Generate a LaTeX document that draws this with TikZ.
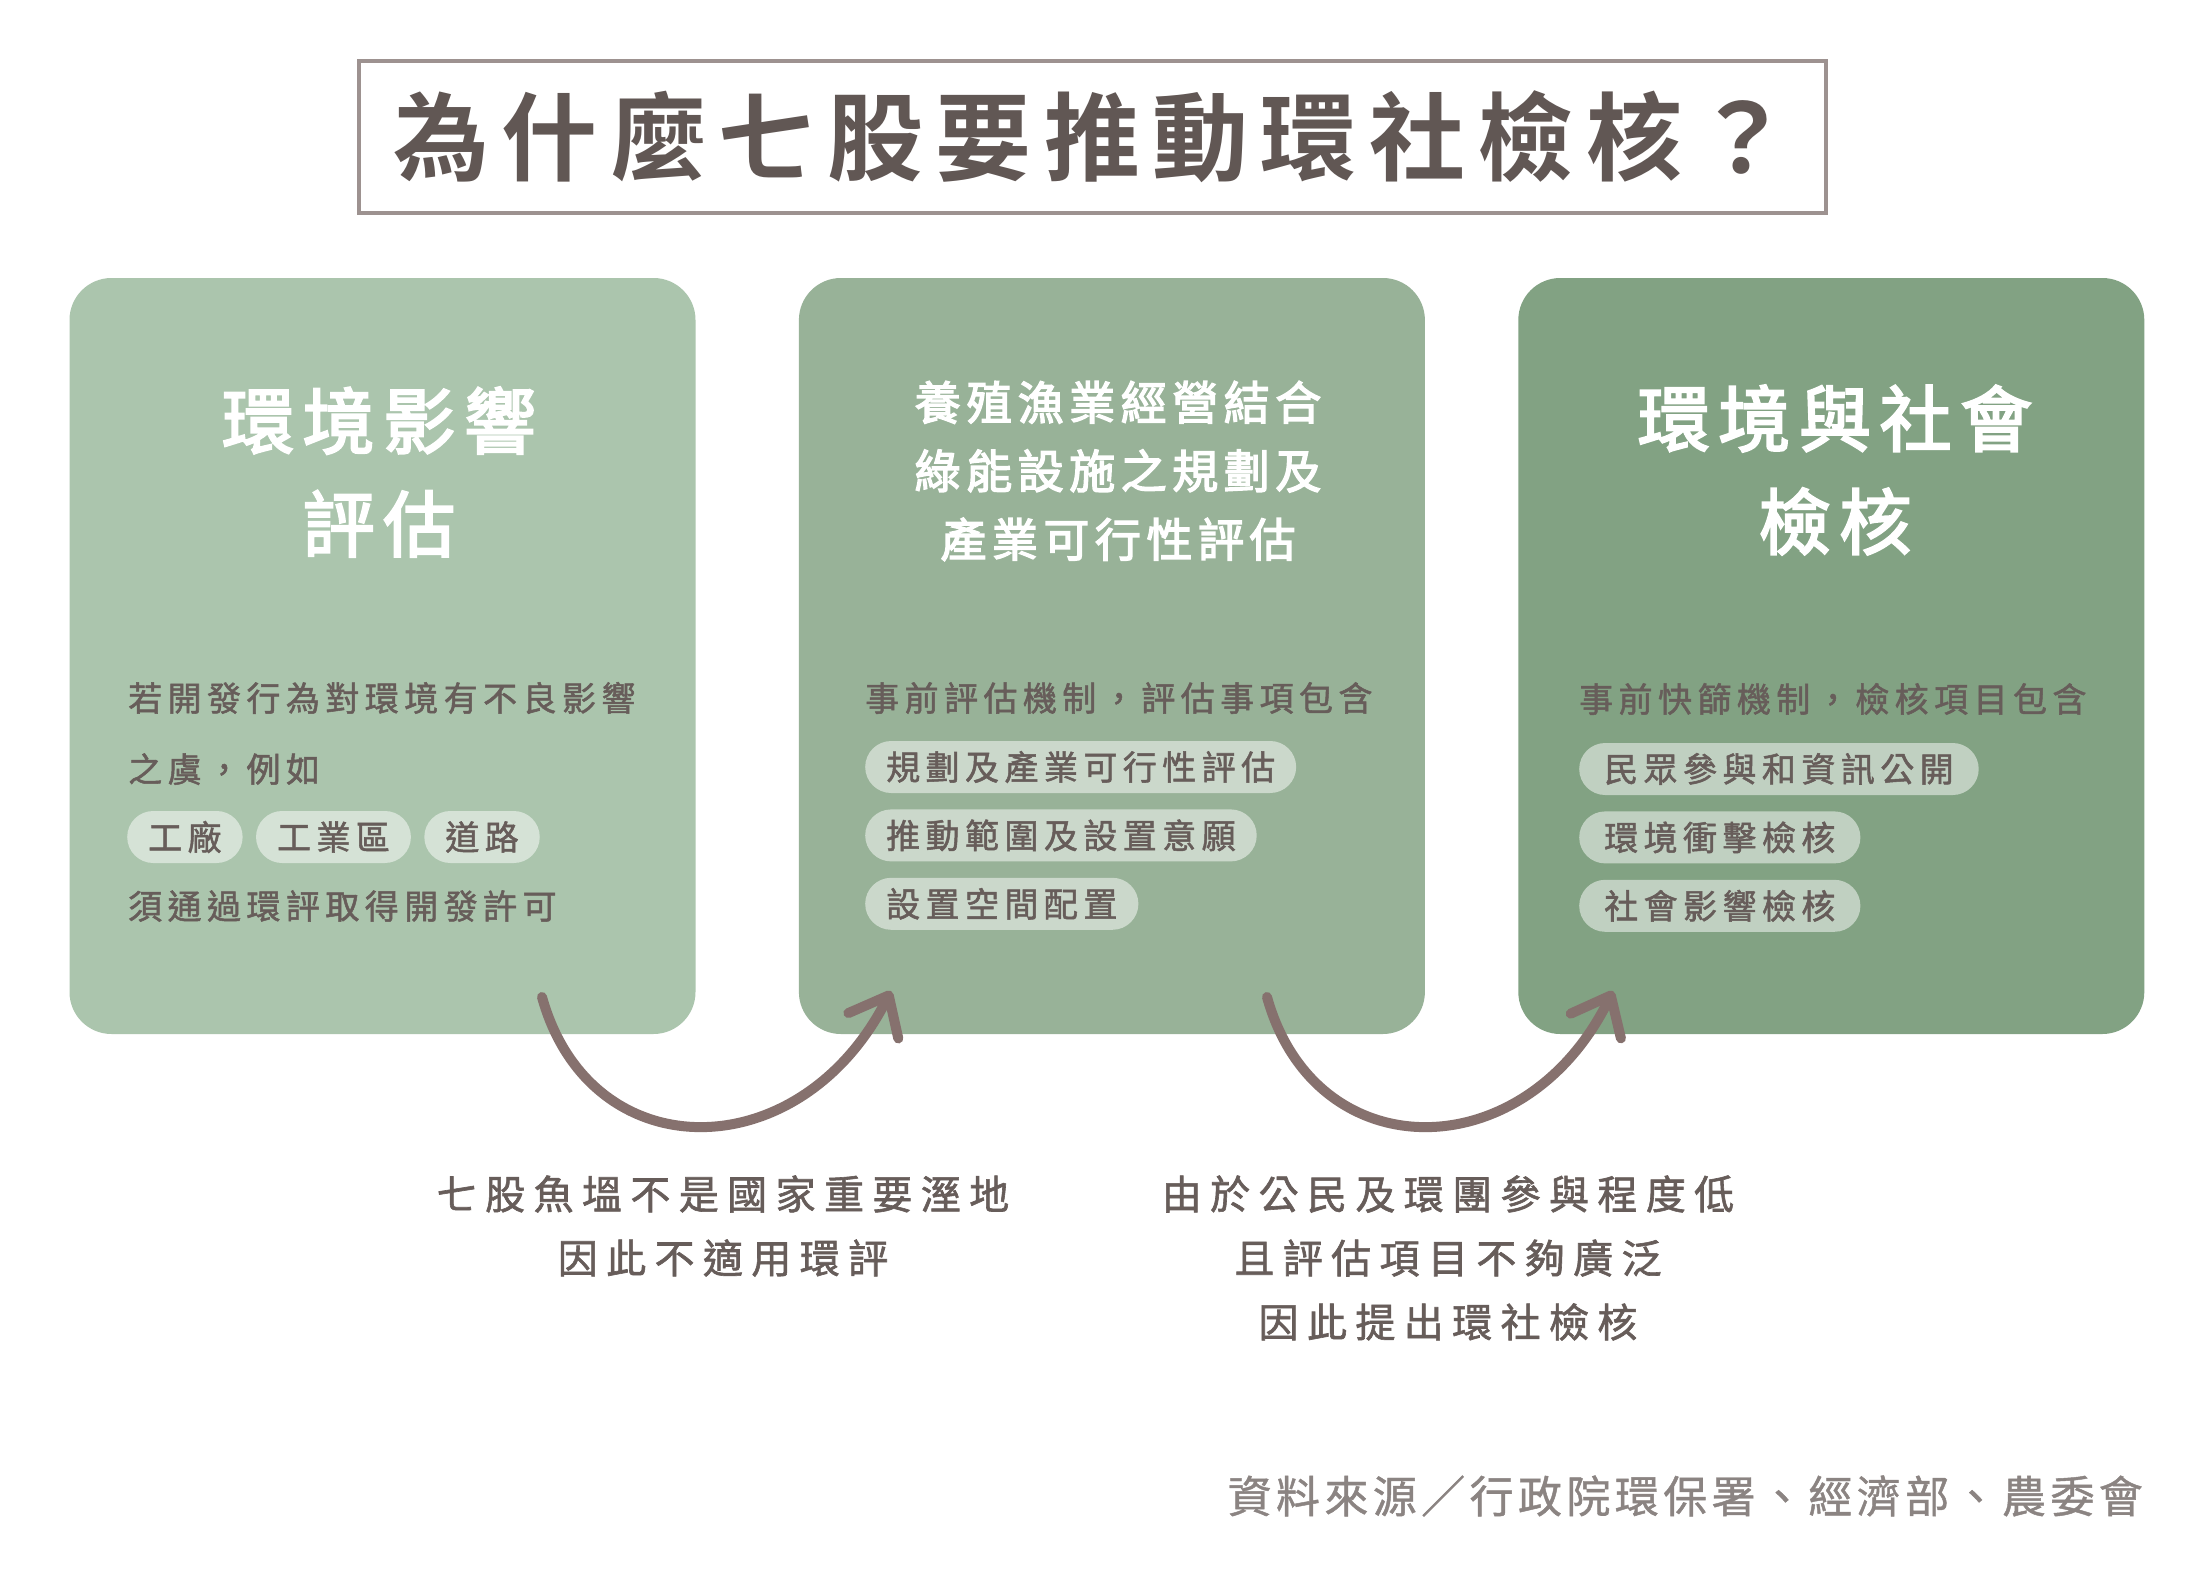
\documentclass[tikz,border=0pt]{standalone}
\usepackage{fontspec}
\usetikzlibrary{positioning,arrows.meta}
\setmainfont{Noto Sans CJK TC}
\newfontfamily\titlefont[LetterSpace=13]{Noto Sans CJK TC Bold}
\newfontfamily\headfont[LetterSpace=12,FakeBold=3]{Noto Sans CJK TC}
\newfontfamily\bodyfont[LetterSpace=16,FakeBold=1.5]{Noto Sans CJK TC}
\newfontfamily\notefont[LetterSpace=21,FakeBold=1.5]{Noto Sans CJK TC}
\newfontfamily\srcfont[LetterSpace=10,FakeBold=1]{Noto Sans CJK TC}

\definecolor{ink}{HTML}{675D5A}
\definecolor{titleink}{HTML}{615754}
\definecolor{frame}{HTML}{9D9290}
\definecolor{cardA}{HTML}{ABC5AD}
\definecolor{cardB}{HTML}{98B298}
\definecolor{cardC}{HTML}{82A283}
\definecolor{arrowc}{HTML}{86716E}
\definecolor{srcink}{HTML}{8B8482}

\begin{document}
\begin{tikzpicture}[
    x=1pt, y=-1pt,
    card/.style={rounded corners=42pt, minimum width=626pt, minimum height=756pt, inner sep=0pt},
    heading/.style={text=white, align=center, inner sep=0pt},
    body/.style={text=ink, align=left, anchor=west, inner sep=0pt,
        font=\bodyfont\fontsize{34}{71}\selectfont},
    pill/.style={fill=white, fill opacity=0.5, text opacity=1, text=ink, rounded corners=26pt,
        minimum height=52pt, inner xsep=21pt, inner ysep=0pt, anchor=west,
        font=\bodyfont\fontsize{34}{40}\selectfont},
    widepill/.style={pill, inner xsep=25pt},
    note/.style={text=ink, align=center, inner sep=0pt,
        font=\notefont\fontsize{40}{64}\selectfont},
    link/.style={draw=arrowc, line width=10pt, line cap=round,
        -{Straight Barb[length=34pt, width=56pt, round]}}
]
\path[fill=white] (0,0) rectangle (2209,1573);
\useasboundingbox (0,0) rectangle (2209,1573);

% Title
\node[draw=frame, line width=4pt, minimum width=1467pt, minimum height=152pt, inner sep=0pt,
    text=titleink, font=\titlefont\fontsize{96}{110}\selectfont] (title) at (1092,137) {為什麼七股要推動環社檢核？};

% Cards
\node[card, fill=cardA] (eia) at (382.5,656) {};
\node[card, fill=cardB, right=103pt of eia] (plan) {};
\node[card, fill=cardC, right=93pt of plan] (sia) {};

% Card headings
\node[heading, font=\headfont\fontsize{72}{103}\selectfont] (eiahd) at (379,472) {環境影響\\評估};
\node[heading, font=\headfont\fontsize{46}{68.5}\selectfont] (planhd) at (1118,471) {養殖漁業經營結合\\綠能設施之規劃及\\產業可行性評估};
\node[heading, font=\headfont\fontsize{72}{103}\selectfont] (siahd) at (1835,470) {環境與社會\\檢核};

% Card 1 text
\node[body] (eiatx) at (128,733.5) {若開發行為對環境有不良影響\\之虞，例如};
\node[pill] (p11) at (127,837) {工廠};
\node[pill, right=13pt of p11] (p12) {工業區};
\node[pill, right=13pt of p12] (p13) {道路};
\node[body] (eiaend) at (128,906) {須通過環評取得開發許可};

% Card 2 text
\node[body] (plantx) at (865,698) {事前評估機制，評估事項包含};
\node[pill] (p21) at (865,767) {規劃及產業可行性評估};
\node[pill, below=16pt of p21.south west, anchor=north west] (p22) {推動範圍及設置意願};
\node[pill, below=16pt of p22.south west, anchor=north west] (p23) {設置空間配置};

% Card 3 text
\node[body] (siatx) at (1579,699) {事前快篩機制，檢核項目包含};
\node[widepill] (p31) at (1579,769) {民眾參與和資訊公開};
\node[widepill, below=16pt of p31.south west, anchor=north west] (p32) {環境衝擊檢核};
\node[widepill, below=16pt of p32.south west, anchor=north west] (p33) {社會影響檢核};

% Arrows between cards
\coordinate (l1s) at (542,997);
\coordinate (l1e) at (891,991);
\coordinate (l2s) at (1267,997);
\coordinate (l2e) at (1613,991);
\draw[link] (l1s) .. controls (590,1170) and (800,1170) .. (l1e);
\draw[link] (l2s) .. controls (1315,1170) and (1525,1170) .. (l2e);

% Notes
\node[note] (why1) at (723,1226) {七股魚塭不是國家重要溼地\\因此不適用環評};
\node[note] (why2) at (1448,1258) {由於公民及環團參與程度低\\且評估項目不夠廣泛\\因此提出環社檢核};

% Source
\node[text=srcink, anchor=east, inner sep=0pt, font=\srcfont\fontsize{44}{50}\selectfont] (src) at (2143,1496) {資料來源／行政院環保署、經濟部、農委會};

\end{tikzpicture}
\end{document}
